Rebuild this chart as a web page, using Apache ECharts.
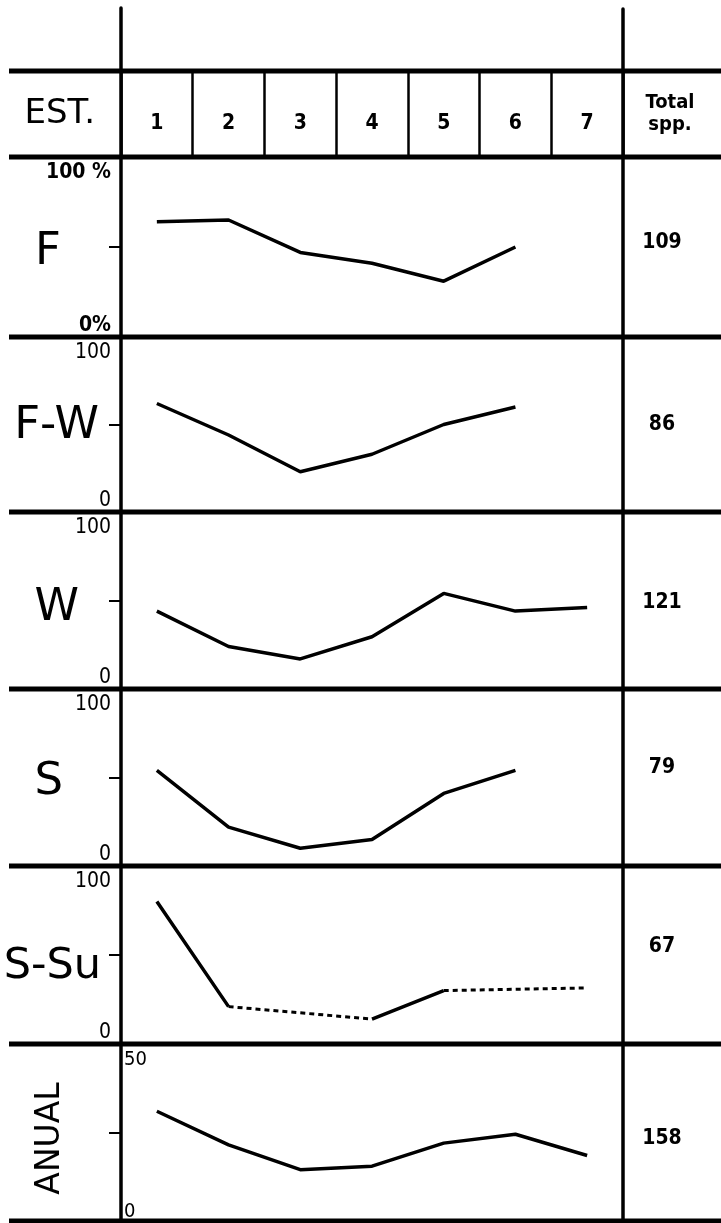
<!DOCTYPE html>
<html><head><meta charset="utf-8">
<script src="https://cdn.jsdelivr.net/npm/echarts@6/dist/echarts.min.js"></script>
<style>html,body{margin:0;padding:0;background:#fff}#c{width:721px;height:1223px}</style>
</head><body><div id="c"></div>
<script>
// ---- data ----
const stations = ['1', '2', '3', '4', '5', '6', '7'];
const groups = ['F', 'F-W', 'W', 'S', 'S-Su', 'ANUAL'];
const totals = [109, 86, 121, 79, 67, 158];
const fValues     = [64, 65, 47, 41, 31, 50, null];
const fwValues    = [62, 44, 23, 33, 50, 60, null];
const wValues     = [44, 24, 17, 29.5, 54, 44, 46];
const sValues     = [54, 22, 10, 15, 41, 54, null];
const ssuValues   = [80, 21, null, 14, 30, null, 31.5];
const anualValues = [31, 21.5, 14.5, 15.5, 22, 24.5, 18.5];
const axisMax = [100, 100, 100, 100, 100, 50];
const topTickLabels = ['100 %', '100', '100', '100', '100', '50'];
const bottomTickLabels = ['0%', '0', '0', '0', '0', '0'];
const headerLeft = 'EST.';
const headerRight = 'Total\nspp.';
const panelValues = [fValues, fwValues, wValues, sValues, ssuValues, anualValues];

// ---- layout ----
const L = 121, R = 623, W = 721, H = 1223;
const headerTop = 71, headerBottom = 157;
const bands = [[157, 337], [337, 512], [512, 689], [689, 866], [866, 1044], [1044, 1221]];
const nameGaps = [60, 22, 42, 58, 20, 71];
const nameFont = [45, 45, 45, 45, 43, 33];
const nameShift = [5, 2, 8, 5, 12, 6];      // px, + = down
const totalShift = [-4, 0, 2, -10, -8, 6];  // px, + = down
const COND = 'DejaVu Sans Condensed';

function shiftPad(s) { return s >= 0 ? [2 * s, 0, 0, 0] : [0, 0, -2 * s, 0]; }
function shiftPadRot(s) { return s >= 0 ? [0, 2 * s, 0, 0] : [0, 0, 0, -2 * s]; }

const grids = [{left: L, width: R - L, top: headerTop, height: headerBottom - headerTop, outerBoundsMode: 'none', containLabel: false}];
const xAxes = [{
  gridIndex: 0, type: 'category', data: stations, boundaryGap: true,
  axisLine: {show: false}, axisTick: {show: false},
  splitLine: {show: true, interval: 0, lineStyle: {color: '#000', width: 2.5}},
  axisLabel: {margin: -44, interval: 0, color: '#000', fontFamily: COND, fontWeight: 'bold', fontSize: 21}
}];
const yAxes = [
  {gridIndex: 0, type: 'value', min: 0, max: 1, position: 'left',
   axisLine: {show: false}, axisTick: {show: false}, axisLabel: {show: false}, splitLine: {show: false},
   name: headerLeft, nameLocation: 'middle', nameRotate: 0, nameGap: 26, nameMoveOverlap: false,
   nameTextStyle: {fontFamily: 'DejaVu Sans', fontSize: 34, color: '#000', align: 'right', verticalAlign: 'middle'}},
  {gridIndex: 0, type: 'value', min: 0, max: 1, position: 'right',
   axisLine: {show: false}, axisTick: {show: false}, axisLabel: {show: false}, splitLine: {show: false},
   name: headerRight, nameLocation: 'middle', nameRotate: 0, nameGap: 47, nameMoveOverlap: false,
   nameTextStyle: {fontFamily: COND, fontWeight: 'bold', fontSize: 20, lineHeight: 22, color: '#000', align: 'center', verticalAlign: 'middle'}}
];
const series = [];

panelValues.forEach((vals, i) => {
  const gi = i + 1;
  const [t, b] = bands[i];
  grids.push({left: L, width: R - L, top: t, height: b - t, outerBoundsMode: 'none', containLabel: false});
  xAxes.push({gridIndex: gi, type: 'category', data: stations, boundaryGap: true,
    axisLine: {show: false}, axisTick: {show: false}, axisLabel: {show: false}, splitLine: {show: false}});
  const mx = axisMax[i];
  const isAnual = i === 5;
  const labFont = {fontFamily: COND, fontSize: isAnual ? 20 : 21, color: '#000', fontWeight: i === 0 ? 'bold' : 'normal'};
  const nFont = {fontFamily: 'DejaVu Sans', fontSize: nameFont[i], color: '#000'};
  yAxes.push({
    gridIndex: gi, type: 'value', min: 0, max: mx, interval: mx / 2, position: 'left',
    axisLine: {show: false},
    axisTick: {show: true, length: 12, lineStyle: {color: '#000', width: 2}},
    splitLine: {show: false},
    axisLabel: {
      inside: isAnual, margin: isAnual ? 3 : 10, showMinLabel: true, showMaxLabel: true,
      formatter: v => v === mx ? '{hi|' + topTickLabels[i] + '}' : (v === 0 ? '{lo|' + bottomTickLabels[i] + '}' : ''),
      rich: {
        hi: Object.assign({padding: [32, 0, 0, 0]}, labFont),
        lo: Object.assign({padding: [0, 0, isAnual ? 19 : 23, 0]}, labFont)
      }
    },
    name: '{n|' + groups[i] + '}',
    nameLocation: 'middle', nameRotate: isAnual ? 90 : 0, nameGap: nameGaps[i], nameMoveOverlap: false,
    nameTextStyle: Object.assign({align: isAnual ? 'center' : 'right', verticalAlign: 'middle',
      rich: {n: Object.assign({padding: isAnual ? shiftPadRot(nameShift[i]) : shiftPad(nameShift[i])}, nFont)}}, nFont)
  });
  const tFont = {fontFamily: COND, fontWeight: 'bold', fontSize: 21, color: '#000'};
  yAxes.push({
    gridIndex: gi, type: 'value', min: 0, max: mx, position: 'right',
    axisLine: {show: false}, axisTick: {show: false}, axisLabel: {show: false}, splitLine: {show: false},
    name: '{t|' + totals[i] + '}', nameLocation: 'middle', nameRotate: 0, nameGap: 39, nameMoveOverlap: false,
    nameTextStyle: Object.assign({align: 'center', verticalAlign: 'middle',
      rich: {t: Object.assign({padding: shiftPad(totalShift[i])}, tFont)}}, tFont)
  });
  const yi = 2 + 2 * i;
  // solid segments: consecutive known points
  const solid = vals.map((v, k) => (v != null && ((k > 0 && vals[k - 1] != null) || (k < vals.length - 1 && vals[k + 1] != null))) ? v : null);
  series.push({type: 'line', xAxisIndex: gi, yAxisIndex: yi, data: solid, connectNulls: false,
    symbol: 'none', silent: true, lineStyle: {color: '#000', width: 3.5}});
  // dotted segments bridging missing stations
  for (let k = 1; k < vals.length; k++) {
    if (vals[k] == null && vals[k - 1] != null) {
      let e = k;
      while (e < vals.length && vals[e] == null) e++;
      if (e < vals.length) {
        const d = vals.map((v, j) => (j === k - 1 || j === e) ? v : null);
        series.push({type: 'line', xAxisIndex: gi, yAxisIndex: yi, data: d, connectNulls: true,
          symbol: 'none', silent: true, lineStyle: {color: '#000', width: 3, type: [5, 4]}});
      }
    }
  }
});

const hLines = [headerTop, headerBottom].concat(bands.map(b => b[1]));
const graphic = hLines.map(y => ({type: 'line', shape: {x1: 9, y1: y, x2: W, y2: y}, style: {stroke: '#000', lineWidth: 5}, silent: true}))
  .concat([
    {type: 'line', shape: {x1: L, y1: 8, x2: L, y2: H}, style: {stroke: '#000', lineWidth: 3.5, lineCap: 'round'}, silent: true},
    {type: 'line', shape: {x1: R, y1: 9, x2: R, y2: H}, style: {stroke: '#000', lineWidth: 3.5, lineCap: 'round'}, silent: true}
  ]);

const chart = echarts.init(document.getElementById('c'), null, {renderer: 'canvas'});
chart.setOption({
  animation: false,
  backgroundColor: '#fff',
  grid: grids, xAxis: xAxes, yAxis: yAxes, series: series, graphic: graphic
});
</script></body></html>
